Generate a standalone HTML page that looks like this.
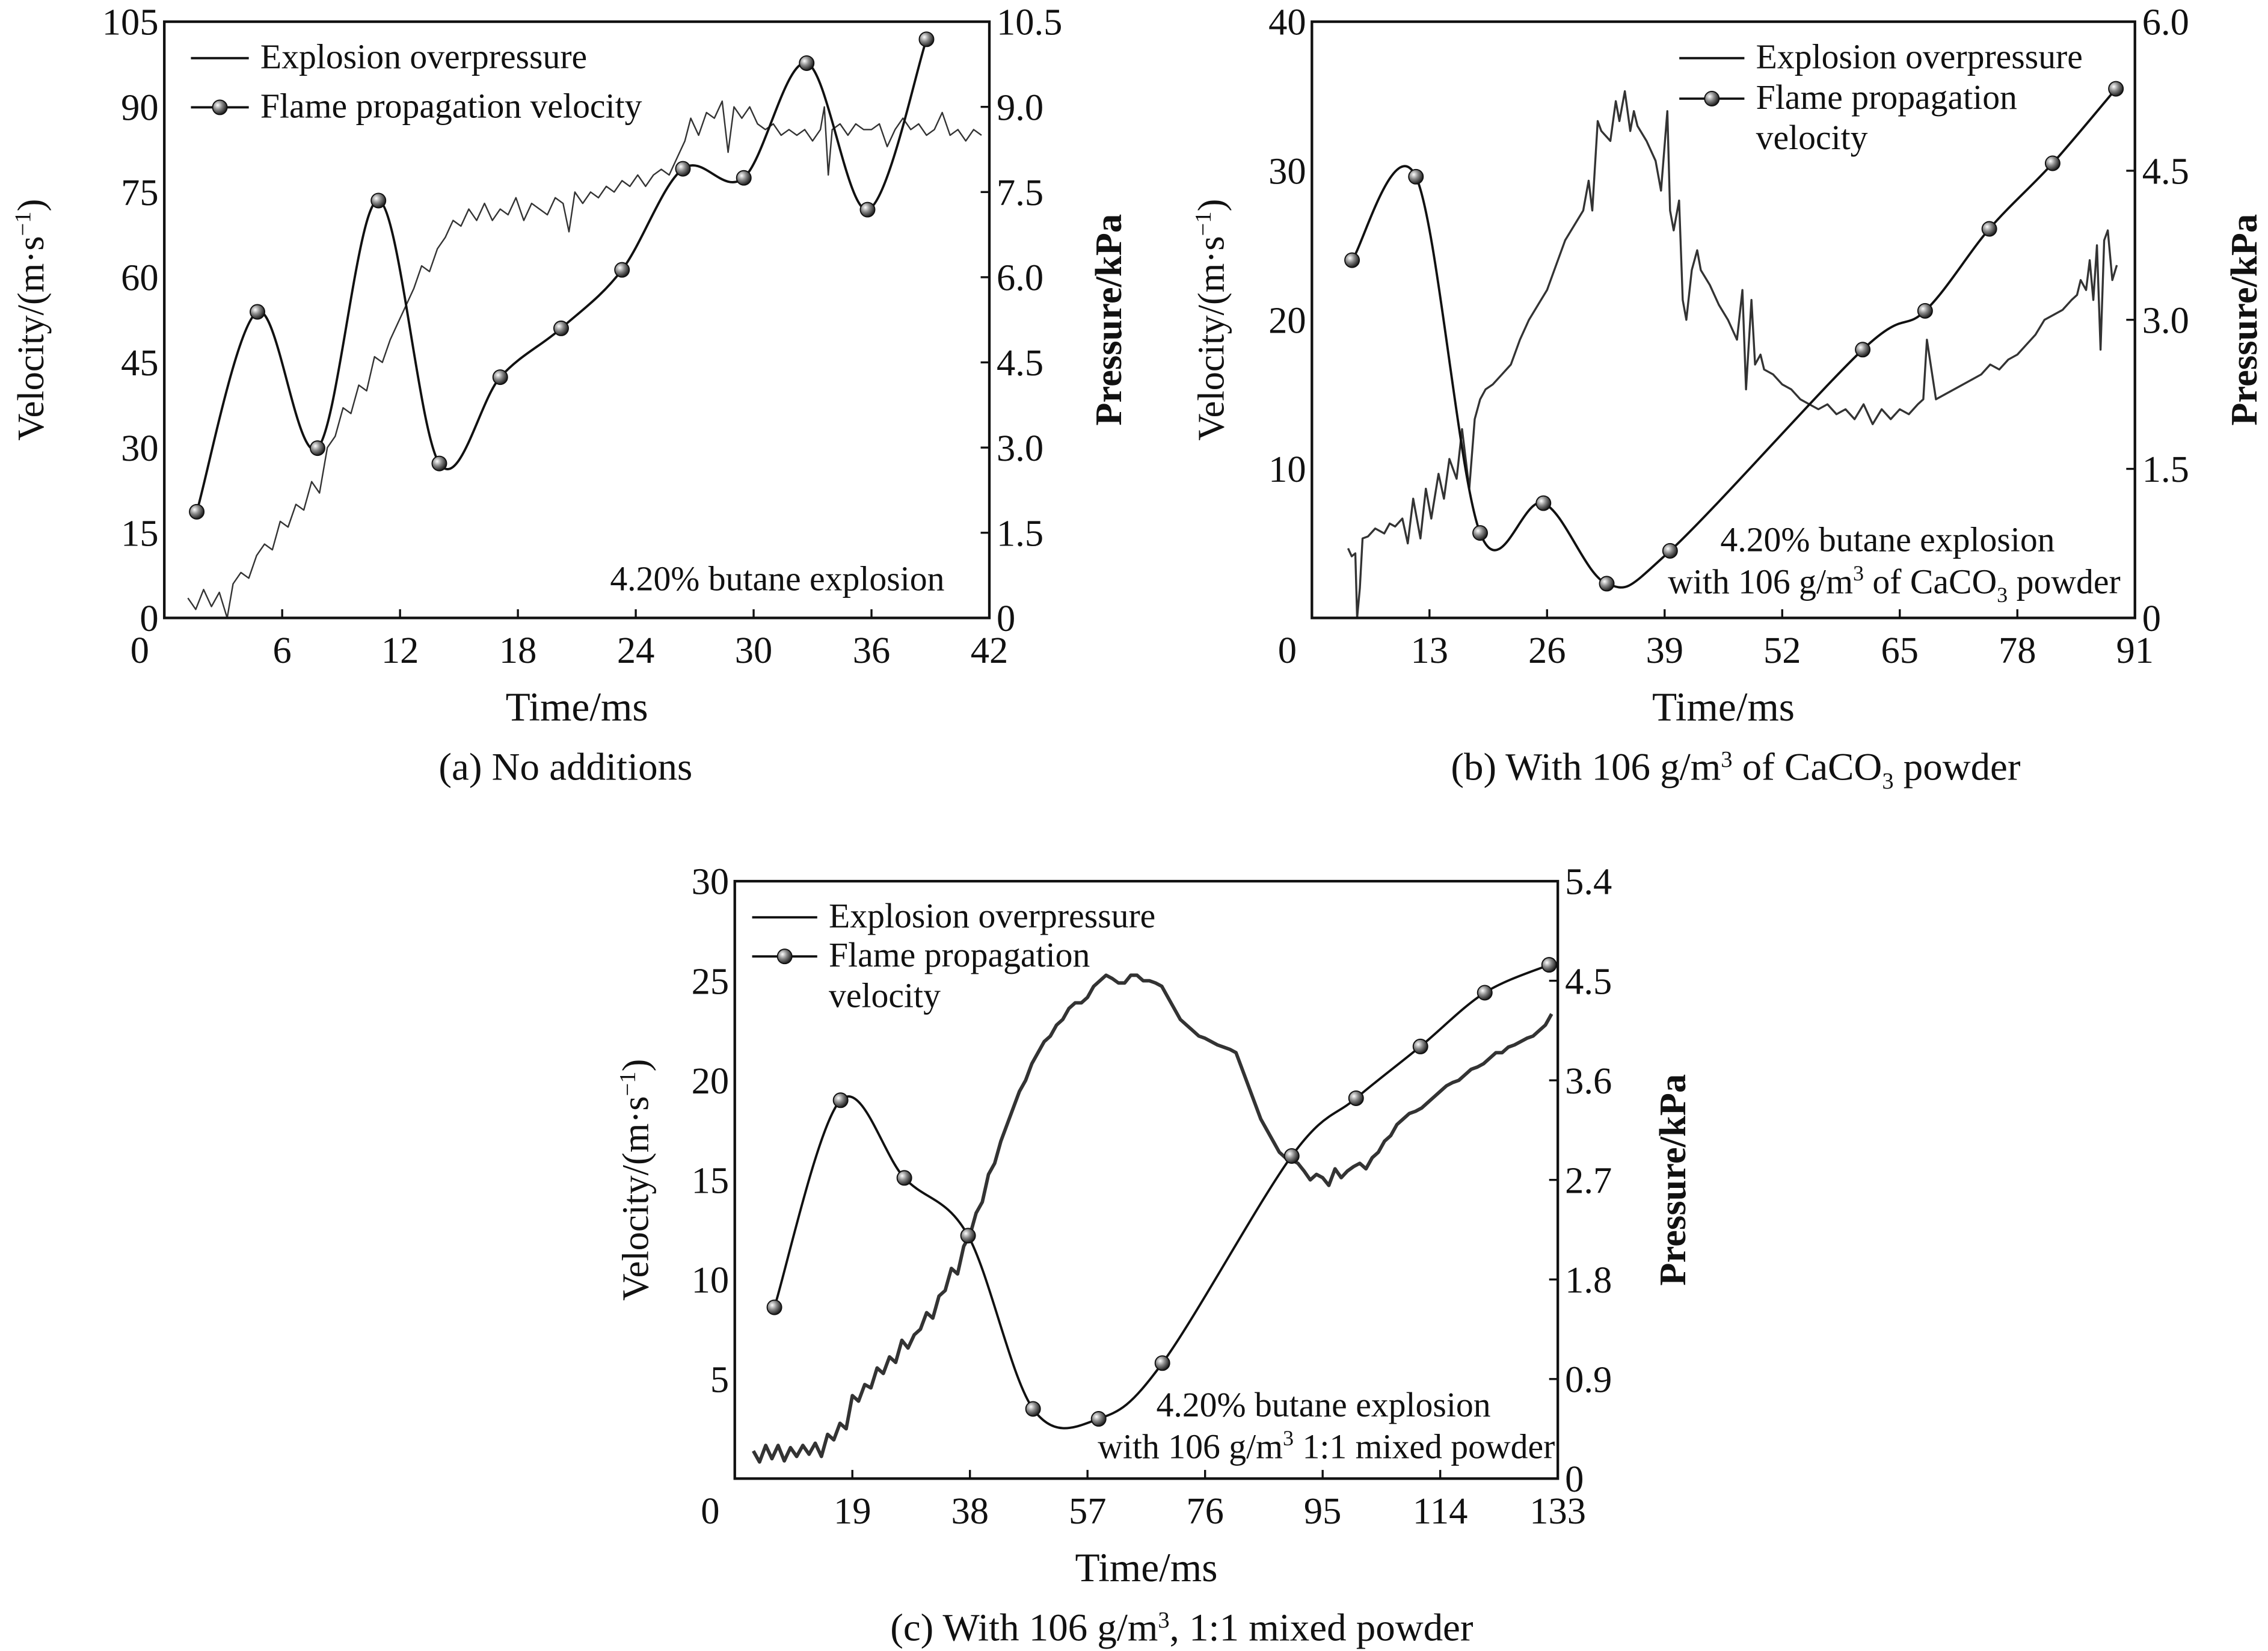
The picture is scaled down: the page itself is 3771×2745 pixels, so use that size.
<!DOCTYPE html>
<html><head><meta charset="utf-8"><style>
html,body{margin:0;padding:0;background:#fff}
svg{display:block}
text{font-family:"Liberation Serif",serif;fill:#111}
</style></head><body>
<svg id="fig" xmlns="http://www.w3.org/2000/svg" width="3771" height="2745" viewBox="0 0 1568 1141">
<defs><radialGradient id="ball" cx="0.35" cy="0.35" r="0.7"><stop offset="0" stop-color="#fff"/><stop offset="0.45" stop-color="#888"/><stop offset="1" stop-color="#111"/></radialGradient></defs>
</svg>
<script>
// ===== Panel (a) data =====
const aVelT=[1.65,4.74,7.8,10.9,14.0,17.1,20.2,23.3,26.4,29.5,32.7,35.8,38.8];
const aVel=[18.7,53.9,29.9,73.5,27.2,42.4,51.0,61.3,79.1,77.5,97.7,71.9,101.9];
const aPT=[1.2,1.6,2.0,2.4,2.8,3.2,3.5,3.9,4.3,4.7,5.1,5.5,5.9,6.3,6.7,7.1,7.5,7.9,8.3,8.7,9.1,9.5,9.9,10.3,10.7,11.1,11.5,11.9,12.3,12.7,13.1,13.5,13.9,14.3,14.7,15.1,15.5,15.9,16.3,16.7,17.1,17.5,17.9,18.3,18.7,19.1,19.5,19.9,20.3,20.6,20.9,21.3,21.7,22.1,22.5,22.9,23.3,23.7,24.1,24.5,24.9,25.3,25.7,26.1,26.5,26.8,27.2,27.6,28.0,28.4,28.7,29.0,29.4,29.8,30.2,30.6,31.0,31.4,31.8,32.2,32.6,33.0,33.4,33.6,33.8,34.0,34.4,34.8,35.2,35.6,36.0,36.4,36.8,37.2,37.6,38.0,38.4,38.8,39.2,39.6,40.0,40.4,40.8,41.2,41.6];
const aP=[0.35,0.15,0.5,0.2,0.45,0.0,0.6,0.8,0.7,1.1,1.3,1.2,1.7,1.6,2.0,1.9,2.4,2.2,3.0,3.2,3.7,3.6,4.1,4.0,4.6,4.5,4.9,5.2,5.5,5.8,6.2,6.1,6.5,6.7,7.0,6.9,7.2,7.0,7.3,7.0,7.2,7.1,7.4,7.0,7.3,7.2,7.1,7.4,7.3,6.8,7.5,7.3,7.5,7.4,7.6,7.5,7.7,7.6,7.8,7.6,7.8,7.9,7.8,8.1,8.4,8.8,8.5,8.9,8.8,9.1,8.2,9.0,8.8,9.0,8.7,8.6,8.7,8.5,8.6,8.5,8.6,8.4,8.6,9.0,7.8,8.6,8.7,8.5,8.7,8.6,8.6,8.7,8.3,8.6,8.8,8.6,8.7,8.5,8.6,8.9,8.5,8.6,8.4,8.6,8.5];
const aXTicks=["0","6","12","18","24","30","36","42"];
const aYTicks=["0","15","30","45","60","75","90","105"];
const aRTicks=["0","1.5","3.0","4.5","6.0","7.5","9.0","10.5"];
// ===== Panel (b) data =====
const bVelT=[4.44,11.5,18.6,25.6,32.6,39.6,60.9,67.8,74.9,81.9,88.9];
const bVel=[24.0,29.6,5.7,7.7,2.3,4.5,18.0,20.6,26.1,30.5,35.5];
const bPT=[4.0,4.4,4.8,5.0,5.3,5.6,6.2,7,8,8.6,9.2,10,10.6,11.2,12,12.6,13.2,14,14.6,15.2,16,16.6,17.4,18,18.6,19.2,20,21,22,23,24,25,26,27,28,29,30,30.6,31,31.6,32,33,33.6,34,34.6,35.2,35.6,36,37,38,38.6,39.3,39.6,40,40.6,41,41.4,42,42.6,43,44,45,46,47,47.6,48,48.6,49,49.6,50,51,52,53,54,55,56,57,58,59,60,61,62,63,64,65,66,67,67.6,68,69,70,71,72,73,74,75,76,77,78,79,80,81,82,83,84,84.6,85,85.6,86,86.4,86.8,87.2,87.6,88,88.5,89];
const bP=[0.7,0.62,0.65,0.0,0.3,0.8,0.82,0.9,0.85,0.95,0.92,1.0,0.75,1.2,0.8,1.3,1.0,1.45,1.2,1.6,1.4,1.9,1.3,2.0,2.2,2.3,2.35,2.45,2.55,2.8,3.0,3.15,3.3,3.55,3.8,3.95,4.1,4.4,4.1,5.0,4.9,4.8,5.2,5.0,5.3,4.9,5.1,4.95,4.8,4.6,4.3,5.1,4.1,3.9,4.2,3.2,3.0,3.5,3.7,3.5,3.35,3.15,3.0,2.8,3.3,2.3,3.2,2.55,2.65,2.5,2.45,2.35,2.3,2.2,2.15,2.1,2.15,2.05,2.1,2.0,2.15,1.95,2.1,2.0,2.1,2.05,2.15,2.2,2.8,2.2,2.25,2.3,2.35,2.4,2.45,2.55,2.5,2.6,2.65,2.75,2.85,3.0,3.05,3.1,3.2,3.25,3.4,3.3,3.6,3.2,3.75,2.7,3.8,3.9,3.4,3.55,3.5];
const bXTicks=["0","13","26","39","52","65","78","91"];
const bYTicks=["","10","20","30","40"];
const bRTicks=["0","1.5","3.0","4.5","6.0"];
// ===== Panel (c) data =====
const cVelT=[6.4,17.1,27.4,37.7,48.2,58.8,69.1,90.0,100.4,110.8,121.2,131.6];
const cVel=[8.6,19.0,15.1,12.2,3.5,3.0,5.8,16.2,19.1,21.7,24.4,25.8];
const cPT=[3,4,5,6,7,8,9,10,11,12,13,14,15,16,17,18,19,20,21,22,23,24,25,26,27,28,29,30,31,32,33,34,35,36,37,38,39,40,41,42,43,44,45,46,47,48,49,50,51,52,53,54,55,56,57,58,59,60,61,62,63,64,65,66,67,68,69,70,71,72,73,74,75,76,77,78,79,80,81,82,83,84,85,86,87,88,89,90,91,92,93,94,95,96,97,98,99,100,101,102,103,104,105,106,107,108,109,110,111,112,113,114,115,116,117,118,119,120,121,122,123,124,125,126,127,128,129,130,131,132];
const cP=[0.25,0.15,0.3,0.18,0.3,0.16,0.28,0.2,0.3,0.22,0.32,0.2,0.4,0.35,0.5,0.45,0.75,0.7,0.85,0.82,1.0,0.95,1.1,1.05,1.25,1.18,1.3,1.35,1.5,1.45,1.65,1.7,1.9,1.85,2.1,2.2,2.4,2.5,2.75,2.85,3.05,3.2,3.35,3.5,3.6,3.75,3.85,3.95,4.0,4.1,4.15,4.25,4.3,4.3,4.35,4.45,4.5,4.55,4.52,4.48,4.48,4.55,4.55,4.5,4.5,4.48,4.45,4.35,4.25,4.15,4.1,4.05,4.0,3.98,3.95,3.92,3.9,3.88,3.85,3.7,3.55,3.4,3.25,3.15,3.05,2.95,2.9,2.88,2.85,2.78,2.7,2.75,2.72,2.65,2.8,2.72,2.78,2.82,2.85,2.8,2.9,2.95,3.05,3.1,3.2,3.25,3.3,3.32,3.35,3.4,3.45,3.5,3.55,3.58,3.6,3.65,3.7,3.72,3.75,3.8,3.85,3.85,3.9,3.92,3.95,3.98,4.0,4.05,4.1,4.2];
const cXTicks=["0","19","38","57","76","95","114","133"];
const cYTicks=["","5","10","15","20","25","30"];
const cRTicks=["0","0.9","1.8","2.7","3.6","4.5","5.4"];

const NS="http://www.w3.org/2000/svg";
const svg=document.getElementById('fig');
function mk(tag,attrs,parent,txt){const e=document.createElementNS(NS,tag);for(const k in attrs)e.setAttribute(k,attrs[k]);if(txt!==undefined)e.textContent=txt;(parent||svg).appendChild(e);return e;}
function spline(pts){let d='M'+pts[0][0]+','+pts[0][1];for(let i=0;i<pts.length-1;i++){const p0=pts[Math.max(0,i-1)],p1=pts[i],p2=pts[i+1],p3=pts[Math.min(pts.length-1,i+2)];const c1x=p1[0]+(p2[0]-p0[0])/6,c1y=p1[1]+(p2[1]-p0[1])/6,c2x=p2[0]-(p3[0]-p1[0])/6,c2y=p2[1]-(p3[1]-p1[1])/6;d+=` C${c1x},${c1y} ${c2x},${c2y} ${p2[0]},${p2[1]}`;}return d;}

function panel(o){
  const g=mk('g',{});
  
  
  const {L,R,T,B}=o;
  const X=v=>L+(v/o.xMax)*(R-L);
  const Yv=v=>B-(v/o.vMax)*(B-T);
  const Yp=v=>B-(v/o.pMax)*(B-T);
  const pd=o.pT.map((t,i)=>(i?'L':'M')+X(t).toFixed(2)+','+Yp(o.p[i]).toFixed(2)).join(' ');
  const pl=mk('path',{d:pd,fill:'none',stroke:'#333','stroke-width':o.pw,'stroke-linejoin':'round'},g);
  
  
  const pts=o.vT.map((t,i)=>[X(t),Yv(o.v[i])]);
  const vl=mk('path',{d:spline(pts),fill:'none',stroke:'#111','stroke-width':1.6},g);
  
  
  pts.forEach(p=>{const c=mk('circle',{cx:p[0],cy:p[1],r:5,fill:'url(#ball)',stroke:'#111','stroke-width':0.8},g);
    
    });
  const fr=mk('rect',{x:L,y:T,width:R-L,height:B-T,fill:'none',stroke:'#111','stroke-width':1.8},g);
  
  
  const nx=o.xt.length-1;
  o.xt.forEach((s,i)=>{const x=L+i*(R-L)/nx;
    if(i>0&&i<nx)mk('line',{x1:x,y1:B,x2:x,y2:B-6,stroke:'#111','stroke-width':1.4},g);
    const t=mk('text',{x:i==0?x-17:x,y:B+31,'font-size':26,'text-anchor':'middle'},g,s);
    
    });
  const ny=o.yt.length-1;
  o.yt.forEach((s,i)=>{const y=B-i*(B-T)/ny;
    if(i>0&&i<ny)mk('line',{x1:R,y1:y,x2:R-6,y2:y,stroke:'#111','stroke-width':1.4},g);
    if(s){const t=mk('text',{x:L-4,y:y+9,'font-size':26,'text-anchor':'end'},g,s);
    
    }});
  o.rt.forEach((s,i)=>{const y=B-i*(B-T)/(o.rt.length-1);
    const t=mk('text',{x:R+5,y:y+9,'font-size':26},g,s);
    
    });
  const vt=mk('text',{x:0,y:0,'font-size':26,'text-anchor':'middle',transform:`translate(${o.vx},${(T+B)/2}) rotate(-90)`},g);
  vt.innerHTML='Velocity/(m·s<tspan dy="-9" font-size="16">−1</tspan><tspan dy="9">)</tspan>';
  
  
  const pt=mk('text',{x:0,y:0,'font-size':26,'font-weight':'bold','text-anchor':'middle',transform:`translate(${o.px},${(T+B)/2}) rotate(-90)`,'font-family':'Liberation Sans'},g,'Pressure/kPa');
  
  
  const xt=mk('text',{x:(L+R)/2,y:B+71,'font-size':28,'text-anchor':'middle'},g,'Time/ms');
  
  
  const cap=mk('text',{x:o.capX,y:B+112,'font-size':27,'text-anchor':'middle'},g);
  cap.innerHTML=o.cap;
  
  
  const lg=mk('g',{},g);
  
  
  mk('line',{x1:o.lx1,y1:o.ly[0]-7,x2:o.lx2,y2:o.ly[0]-7,stroke:'#111','stroke-width':1.6},lg);
  mk('text',{x:o.lx2+8,y:o.ly[0],'font-size':24},lg,'Explosion overpressure');
  mk('line',{x1:o.lx1,y1:o.ly[1]-7,x2:o.lx2,y2:o.ly[1]-7,stroke:'#111','stroke-width':1.6},lg);
  mk('circle',{cx:(o.lx1+o.lx2)/2,cy:o.ly[1]-7,r:5,fill:'url(#ball)',stroke:'#111','stroke-width':0.8},lg);
  if(o.ly.length>2){mk('text',{x:o.lx2+8,y:o.ly[1],'font-size':24},lg,'Flame propagation');mk('text',{x:o.lx2+8,y:o.ly[2],'font-size':24},lg,'velocity');}
  else mk('text',{x:o.lx2+8,y:o.ly[1],'font-size':24},lg,'Flame propagation velocity');
  o.ann.forEach(a=>{const t=mk('text',{x:a[0],y:a[1],'font-size':24,'text-anchor':a[3]||'middle'},g);t.innerHTML=a[2];
    
    });
}
panel({name:'panel-a',L:113.6,R:684,T:14.8,B:427,xMax:42,vMax:105,pMax:10.5,vT:aVelT,v:aVel,pT:aPT,p:aP,pw:1.0,
  xt:aXTicks,yt:aYTicks,rt:aRTicks,vx:30,px:775,capX:391,cap:'(a) No additions',
  lx1:132,lx2:172,ly:[47,81],ann:[[653,408,'4.20% butane explosion','end']]});
panel({name:'panel-b',L:907,R:1476,T:14.8,B:427,xMax:91,vMax:40,pMax:6,vT:bVelT,v:bVel,pT:bPT,p:bP,pw:1.4,
  xt:bXTicks,yt:bYTicks,rt:bRTicks,vx:846,px:1560,capX:1200,cap:'(b) With 106 g/m<tspan dy="-9" font-size="16">3</tspan><tspan dy="9"> of CaCO</tspan><tspan dy="6" font-size="16">3</tspan><tspan dy="-6"> powder</tspan>',
  lx1:1161,lx2:1206,ly:[47,75,103],ann:[[1305,381,'4.20% butane explosion'],[1466,410,'with 106 g/m<tspan dy="-9" font-size="15">3</tspan><tspan dy="9"> of CaCO</tspan><tspan dy="6" font-size="15">3</tspan><tspan dy="-6"> powder</tspan>','end']]});
panel({name:'panel-c',L:508,R:1077,T:609,B:1022,xMax:133,vMax:30,pMax:5.4,vT:cVelT,v:cVel,pT:cPT,p:cP,pw:2.4,
  xt:cXTicks,yt:cYTicks,rt:cRTicks,vx:448,px:1165,capX:817,cap:'(c) With 106 g/m<tspan dy="-9" font-size="16">3</tspan><tspan dy="9">, 1:1 mixed powder</tspan>',
  lx1:520,lx2:565,ly:[641,668,696],ann:[[915,979,'4.20% butane explosion'],[1075,1008,'with 106 g/m<tspan dy="-9" font-size="15">3</tspan><tspan dy="9"> 1:1 mixed powder</tspan>','end']]});
</script>
</body></html>
